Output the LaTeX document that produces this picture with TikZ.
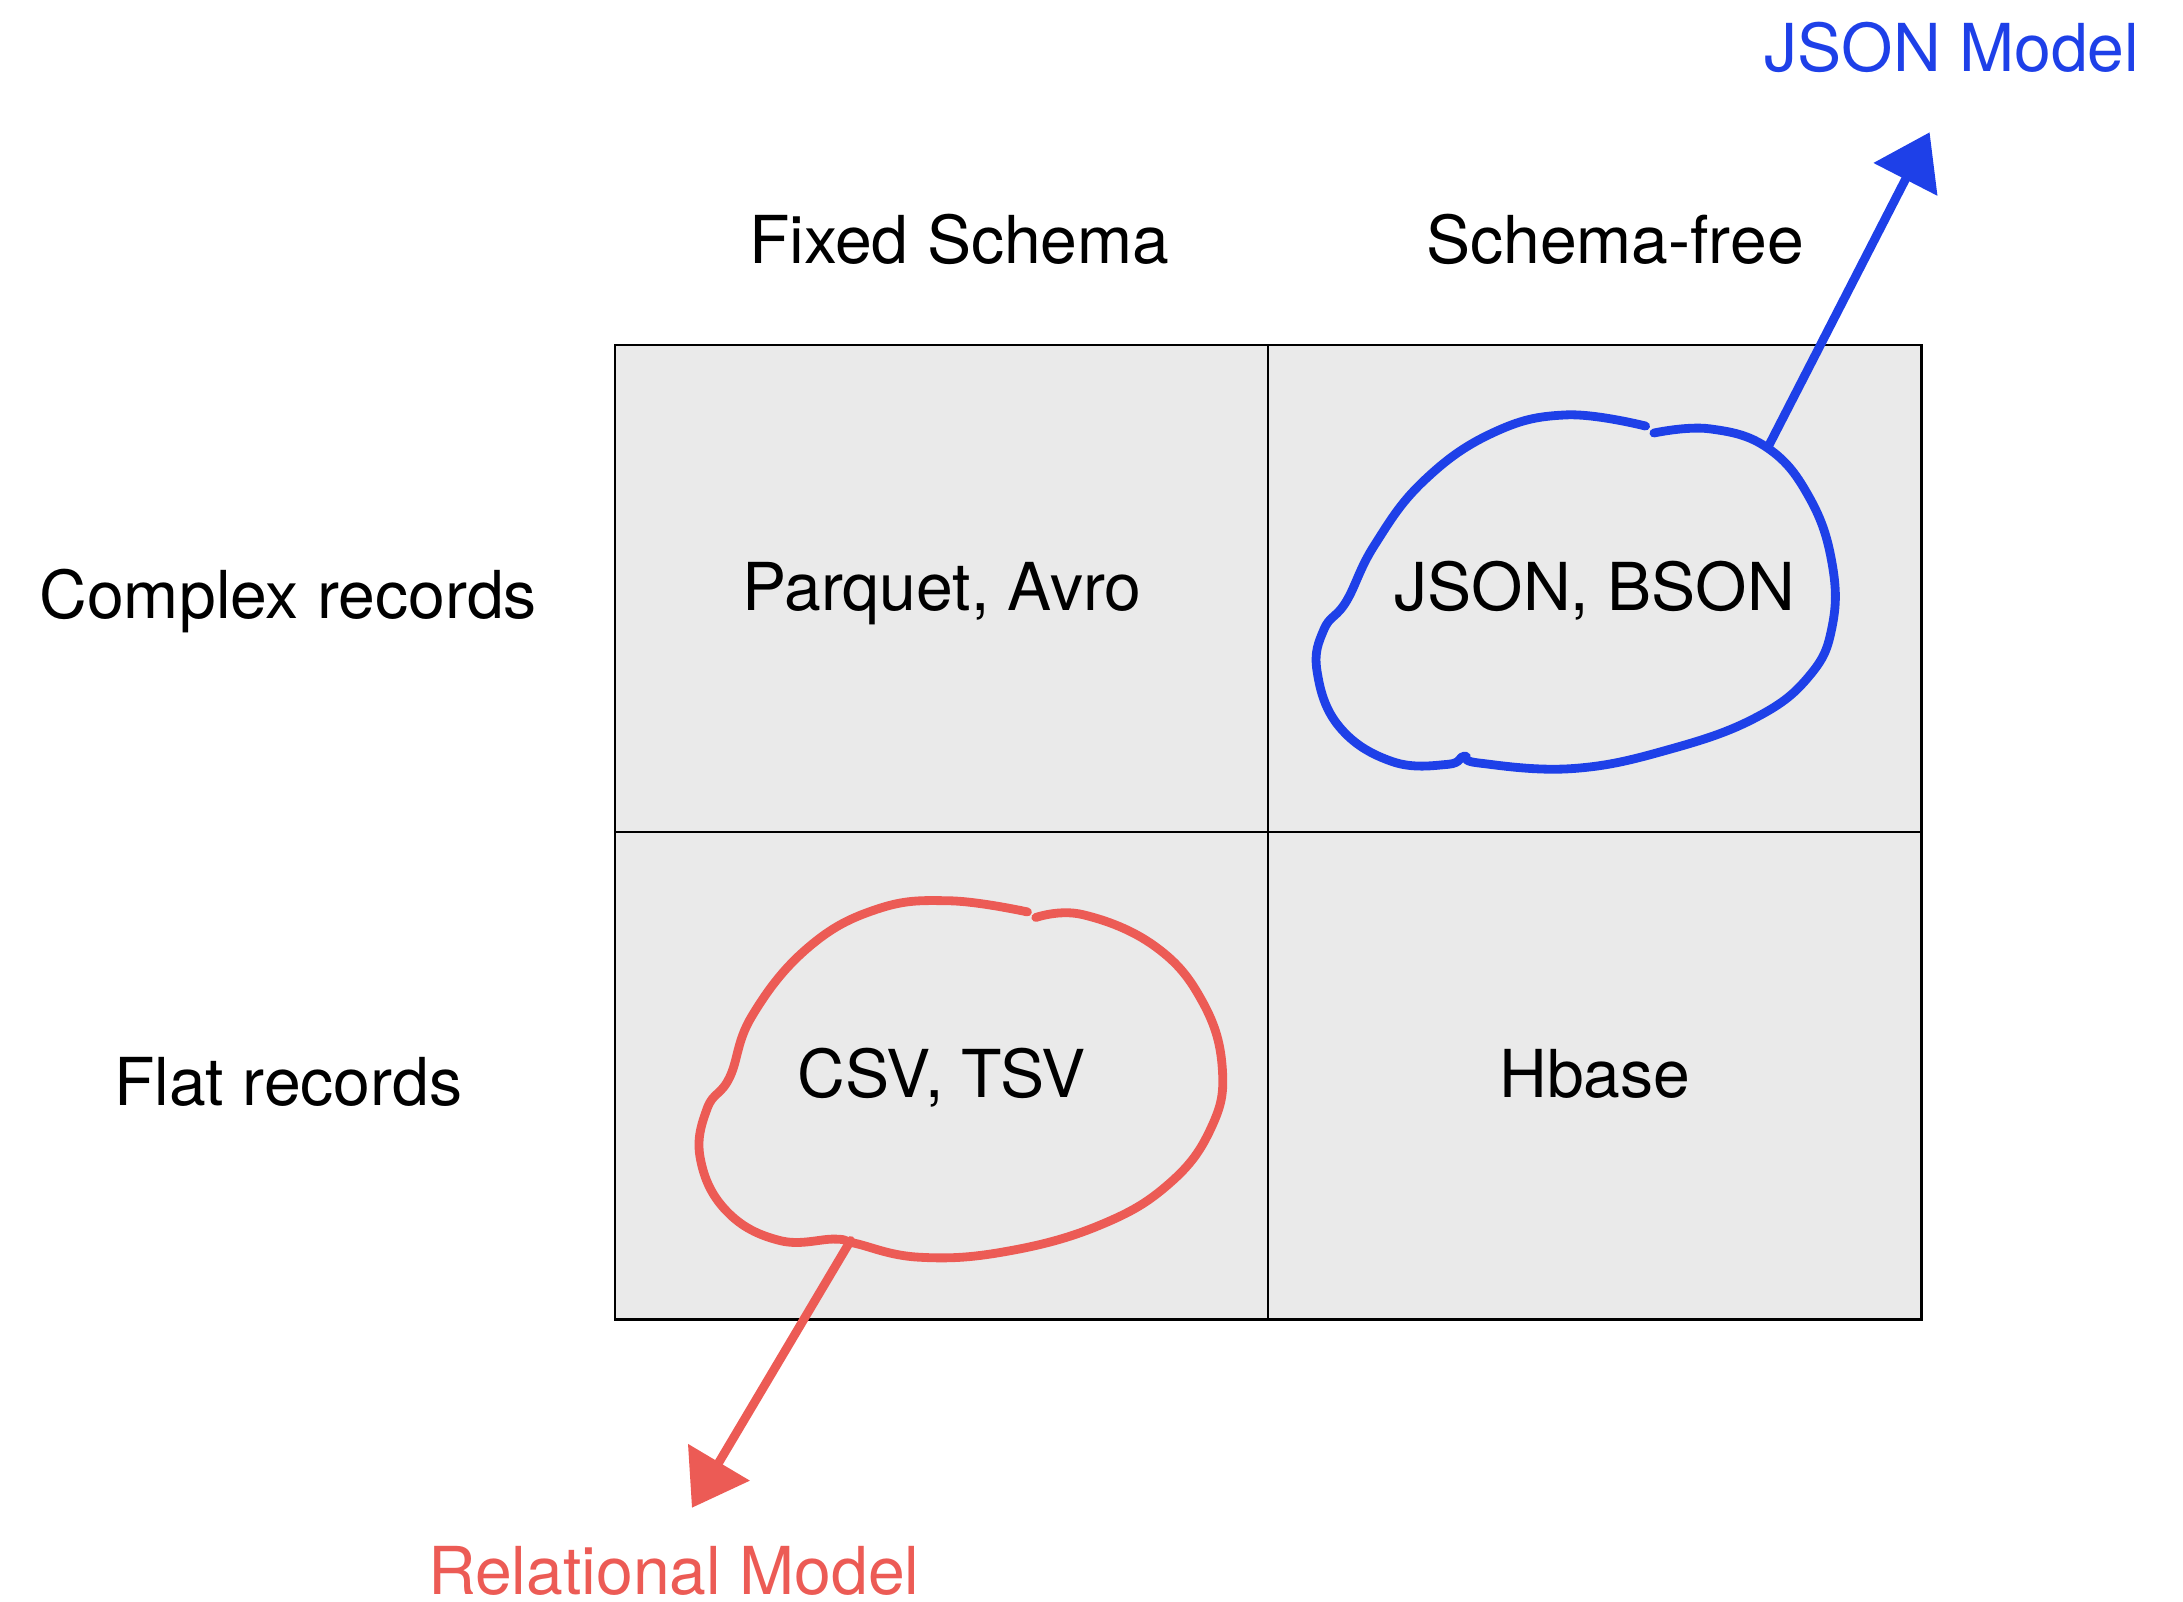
\documentclass[tikz,border=0pt]{standalone}
\usepackage{fontspec}
\setmainfont{TeX Gyre Heros}
\usetikzlibrary{arrows.meta,positioning}
\definecolor{cellgray}{HTML}{EAEAEA}
\definecolor{jsonblue}{HTML}{1E40E8}
\definecolor{relred}{HTML}{EC5B55}

\begin{document}
\begin{tikzpicture}
[x=0.01cm, y=-0.01cm, line width=0.5pt, font=\fontsize{13.5}{16}\selectfont,
cell/.style={rectangle, draw, fill=cellgray, inner sep=0pt, minimum width=4.69cm, minimum height=3.5cm, text height=1em, text depth=0.12em},
head/.style={inner sep=0pt},
loop/.style={line width=1.8pt, line cap=round, line join=round},
pointer/.style={line width=1.8pt, line cap=round, -{Triangle[length=3.8mm,width=5mm]}}]

\useasboundingbox (0,0) rectangle (1568,1150);

% the four cells
\node[cell] (c00) at (676.5,423) {Parquet, Avro};
\node[cell] (c01) at (1145.5,423) {JSON, BSON};
\node[cell] (c10) at (676.5,772.5) {CSV, TSV};
\node[cell] (c11) at (1145.5,772.5) {Hbase};

% headings
\node[head] (fixed) at (689,172) {Fixed Schema};
\node[head] (free) at (1160,172) {Schema-free};
\node[head] (complex) at (207,432) {Complex records};
\node[head] (flat) at (207,777) {Flat records};

\node[head, text=jsonblue] (jsonmodel) at (1402,34) {JSON Model};
\node[head, text=relred] (relmodel) at (484,1128) {Relational Model};

% blue loop
\draw[loop, jsonblue] plot[smooth, tension=0.7] coordinates {
(1188,311) (1228,308) (1270,322) (1300,358) (1316,405) (1316,450) (1300,485)
(1262,515) (1200,538) (1130,552) (1062,548) (1052,543) (1040,549) (1000,547)
(962,522) (946,482) (951,452) (967,432) (987,392) (1022,346) (1072,311)
(1125,298) (1182,306)};

% red loop
\draw[loop, relred] plot[smooth, tension=0.7] coordinates {
(744,659) (778,657) (830,680) (864,720) (878,768) (870,810) (840,850)
(790,880) (722,899) (660,903) (614,893) (600,890) (560,891) (522,870)
(503,832) (508,796) (524,774) (540,730) (580,681) (630,653) (682,647) (738,655)};

% arrows
\coordinate (jtail) at (1270,321);
\coordinate (jtip) at (1386,95);
\draw[pointer, jsonblue] (jtail) -- (jtip);

\coordinate (rtail) at (611,891);
\coordinate (rtip) at (497,1083);
\draw[pointer, relred] (rtail) -- (rtip);

\end{tikzpicture}
\end{document}
